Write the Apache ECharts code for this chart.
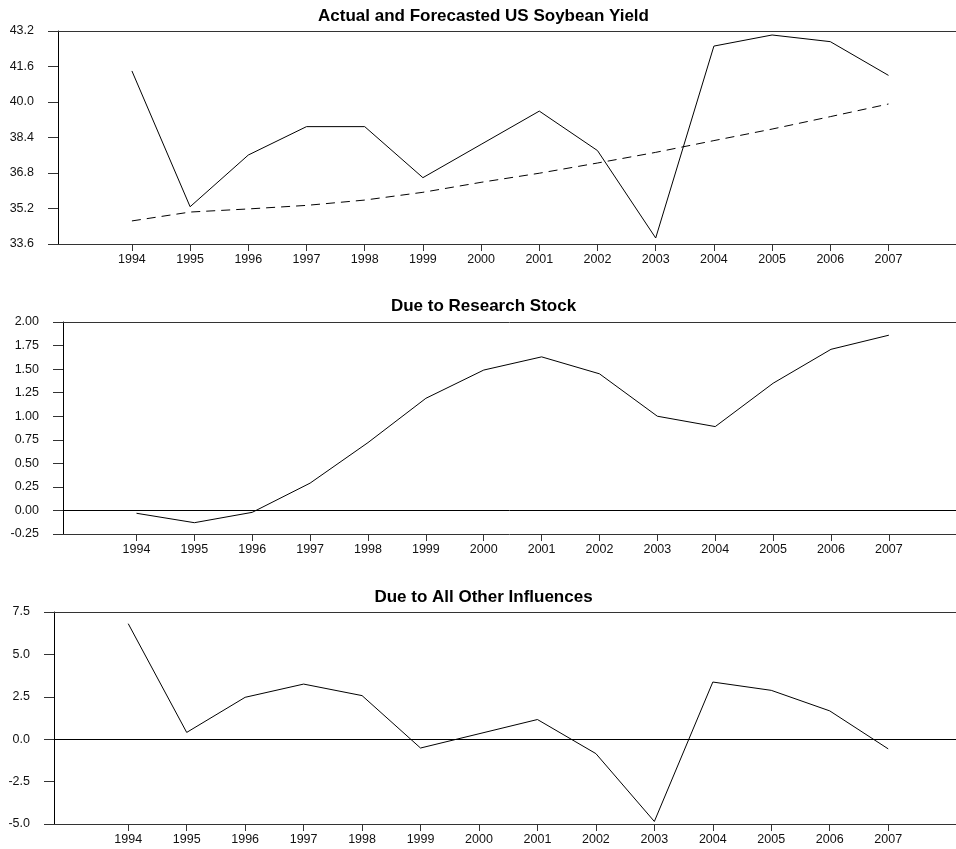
<!DOCTYPE html>
<html>
<head>
<meta charset="utf-8">
<title>US Soybean Yield Decomposition</title>
<script src="https://cdn.jsdelivr.net/npm/echarts@6/dist/echarts.min.js"></script>
<style>
  html, body { margin: 0; padding: 0; background: #fff; }
  #chart { width: 956px; height: 849px; }
</style>
</head>
<body>
<div id="chart"></div>
<script>
// Years on the horizontal axis
const years = [1994, 1995, 1996, 1997, 1998, 1999, 2000, 2001, 2002, 2003, 2004, 2005, 2006, 2007];

// Actual and forecasted yield (bushels per acre)
const actualYield   = [41.40, 35.28, 37.61, 38.89, 38.89, 36.59, 38.09, 39.59, 37.81, 33.87, 42.52, 43.02, 42.72, 41.20];
const forecastYield = [34.64, 35.04, 35.18, 35.34, 35.58, 35.93, 36.38, 36.79, 37.25, 37.73, 38.26, 38.78, 39.34, 39.91];

// Contribution of the research stock
const researchStock = [-0.03, -0.13, -0.02, 0.29, 0.72, 1.19, 1.49, 1.63, 1.45, 1.00, 0.89, 1.35, 1.71, 1.86];

// Contribution of all other influences
const otherInfluences = [6.81, 0.40, 2.47, 3.25, 2.57, -0.52, 0.32, 1.16, -0.85, -4.85, 3.37, 2.88, 1.67, -0.57];

// Tick labels of each value axis
const yieldTicks    = [33.6, 35.2, 36.8, 38.4, 40.0, 41.6, 43.2];
const researchTicks = [-0.25, 0.00, 0.25, 0.50, 0.75, 1.00, 1.25, 1.50, 1.75, 2.00];
const otherTicks    = [-5.0, -2.5, 0.0, 2.5, 5.0, 7.5];

// Panel titles
const titles = [
  'Actual and Forecasted US Soybean Yield',
  'Due to Research Stock',
  'Due to All Other Influences'
];

const FONT = "'Liberation Sans', Arial, Helvetica, sans-serif";
const X_MIN = 1992.73, X_MAX = 2008.16;

const pairs = vals => years.map((y, i) => [y, vals[i]]);

const panels = [
  { left: 58, top: 31,  height: 213, ticks: yieldTicks,    digits: 1 },
  { left: 63, top: 322, height: 212, ticks: researchTicks, digits: 2 },
  { left: 54, top: 612, height: 212, ticks: otherTicks,    digits: 1 }
];

const grids = panels.map(p => ({ left: p.left, top: p.top, height: p.height, right: 0 }));

const xAxes = [];
panels.forEach((p, i) => {
  // bottom axis with year ticks
  xAxes.push({
    type: 'value', gridIndex: i, min: X_MIN, max: X_MAX, position: 'bottom',
    axisLine: { show: true, onZero: false, lineStyle: { color: '#333', width: 1 } },
    axisTick: { show: true, length: 7, customValues: years, lineStyle: { color: '#333' } },
    axisLabel: {
      show: true, customValues: years, margin: 9,
      fontFamily: FONT, fontSize: 12.5, color: '#111',
      formatter: v => String(Math.round(v))
    },
    splitLine: { show: false }
  });
  // top border line
  xAxes.push({
    type: 'value', gridIndex: i, min: X_MIN, max: X_MAX, position: 'top',
    axisLine: { show: true, onZero: false, lineStyle: { color: '#333', width: 1 } },
    axisTick: { show: false }, axisLabel: { show: false }, splitLine: { show: false }
  });
});

const yAxes = panels.map((p, i) => ({
  type: 'value', gridIndex: i,
  min: p.ticks[0], max: p.ticks[p.ticks.length - 1],
  axisLine: { show: true, onZero: false, lineStyle: { color: '#000', width: 1 } },
  axisTick: { show: true, length: 10, customValues: p.ticks, lineStyle: { color: '#333' } },
  axisLabel: {
    show: true, customValues: p.ticks, margin: 24,
    fontFamily: FONT, fontSize: 12.5, color: '#111',
    formatter: v => Number(v).toFixed(p.digits)
  },
  splitLine: { show: false }
}));

const zeroLine = {
  silent: true, symbol: 'none', label: { show: false },
  lineStyle: { color: '#000', type: 'solid', width: 1 },
  data: [{ yAxis: 0 }]
};

const lineBase = { type: 'line', showSymbol: false, symbol: 'none', silent: true, animation: false };

const series = [
  Object.assign({}, lineBase, {
    name: 'Actual', xAxisIndex: 0, yAxisIndex: 0, data: pairs(actualYield),
    lineStyle: { color: '#000', width: 1 }
  }),
  Object.assign({}, lineBase, {
    name: 'Forecast', xAxisIndex: 0, yAxisIndex: 0, data: pairs(forecastYield),
    lineStyle: { color: '#000', width: 1, type: [9, 6] }
  }),
  Object.assign({}, lineBase, {
    name: 'Research Stock', xAxisIndex: 2, yAxisIndex: 1, data: pairs(researchStock),
    lineStyle: { color: '#000', width: 1 }, markLine: zeroLine
  }),
  Object.assign({}, lineBase, {
    name: 'Other Influences', xAxisIndex: 4, yAxisIndex: 2, data: pairs(otherInfluences),
    lineStyle: { color: '#000', width: 1 }, markLine: zeroLine
  })
];

const titleY = [16, 306, 597];
const graphic = titles.map((t, i) => ({
  type: 'text', x: 483.5, y: titleY[i], silent: true,
  style: {
    text: t, fill: '#000', textAlign: 'center', textVerticalAlign: 'middle',
    font: 'bold 17px ' + FONT
  }
}));

const chart = echarts.init(document.getElementById('chart'), null, { renderer: 'canvas' });
chart.setOption({
  backgroundColor: '#fff',
  animation: false,
  grid: grids,
  xAxis: xAxes,
  yAxis: yAxes,
  series: series,
  graphic: graphic
});
</script>
</body>
</html>
